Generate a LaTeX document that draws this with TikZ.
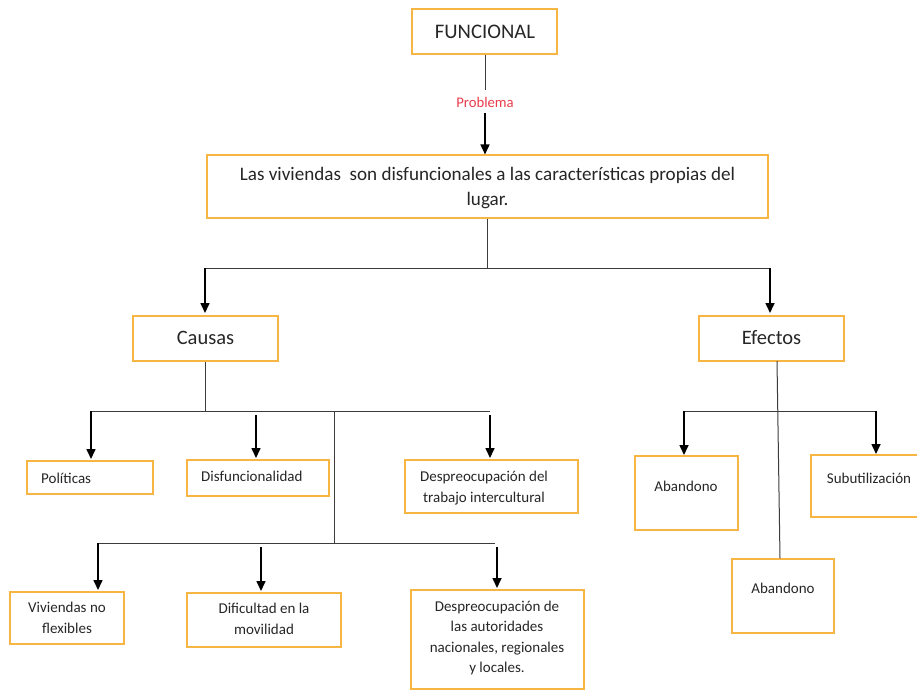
\documentclass[tikz,border=0pt]{standalone}
\usepackage{fontspec}
\setmainfont{Carlito}
\usetikzlibrary{arrows.meta,fit}
\definecolor{boxor}{RGB}{247,181,67}
\definecolor{linegr}{RGB}{60,60,60}
\definecolor{probred}{RGB}{232,60,75}
\begin{document}
\begin{tikzpicture}[x=1pt,y=-1pt,
  box/.style={draw=boxor, line width=1.1pt, inner sep=0pt},
  txt/.style={inner sep=0pt, align=center, text=black!85, font=\fontsize{15}{20.5}\selectfont},
  bigtxt/.style={inner sep=0pt, align=center, text=black!85, font=\fontsize{20.5}{24}\selectfont},
  maintxt/.style={inner sep=0pt, align=center, text=black!85, font=\fontsize{19.1}{25}\selectfont},
  lnk/.style={draw=linegr, line width=1pt},
  arr/.style={draw=black, line width=1.6pt, -{Triangle[length=10pt,width=9pt]}}]
\useasboundingbox (0,0) rectangle (917,690);

% top
\node[box, fit={(412,9) (557,54)}] (fun) {};
\node[bigtxt, font=\fontsize{20.7}{24}\selectfont] (funt) at (485,31.5) {FUNCIONAL};
\coordinate (pa) at (485,90);
\node[inner sep=0pt, text=probred, font=\fontsize{14.7}{17}\selectfont] (prob) at (485,102) {Problema};
\coordinate (pb) at (485,113);
\node[box, fit={(207,155) (768,218)}] (main) {};
\node[maintxt] (maint) at (487.5,188) {Las viviendas\ \ son disfuncionales a las características propias del\\lugar.};
\draw[lnk] (fun.south -| pa) -- (pa);
\draw[arr] (pb) -- (pb |- main.north);

% level 2
\node[box, fit={(133,316) (278,361)}] (cau) {};
\node[bigtxt] (caut) at (205.5,338) {Causas};
\node[box, fit={(699,316) (844,361)}] (efe) {};
\node[bigtxt] (efet) at (771.5,338) {Efectos};
\coordinate (m1) at (487,268);
\coordinate (mL) at (204,268);
\coordinate (mR) at (771,268);
\draw[lnk] (main.south -| m1) -- (m1);
\draw[lnk] (mL) -- (mR);
\draw[arr] (205,268) -- (205,313);
\draw[arr] (770,268) -- (770,313);

% causas level 3
\coordinate (c1) at (205,411);
\coordinate (cL) at (90,411);
\coordinate (cR) at (490,411);
\coordinate (cM) at (334,411);
\draw[lnk] (cau.south -| c1) -- (c1);
\draw[lnk] (cL) -- (cR);
\node[box, fit={(27,461) (153,494)}] (pol) {};
\node[txt, anchor=west] (polt) at (41,478) {Políticas};
\node[box, fit={(187,460) (329,496)}] (dis) {};
\node[txt, anchor=west] (dist) at (201,476) {Disfuncionalidad};
\node[box, fit={(405,460) (578,513)}] (dti) {};
\node[txt] (dtit) at (484,488) {Despreocupación del\\trabajo intercultural};
\draw[arr] (91,411) -- (91 ,459);
\draw[arr] (256,415) -- (256,458);
\draw[arr] (490,415) -- (490,458);

% causas level 4
\coordinate (d1) at (334,543);
\coordinate (dL) at (97,543);
\coordinate (dR) at (495,543);
\draw[lnk] (cM) -- (d1);
\draw[lnk] (dL) -- (dR);
\node[box, fit={(10,592) (124,644)}] (viv) {};
\node[txt] (vivt) at (67,618) {Viviendas no\\flexibles};
\node[box, fit={(187,593) (341,647)}] (dif) {};
\node[txt] (dift) at (264,619) {Dificultad en la\\movilidad};
\node[box, fit={(411,590) (584,689)}] (dau) {};
\node[txt] (daut) at (497,638) {Despreocupación de\\las autoridades\\nacionales, regionales\\y locales.};
\draw[arr] (98,543) -- (98,590);
\draw[arr] (261,547) -- (261,591);
\draw[arr] (497,547) -- (497,588);

% efectos
\coordinate (e1) at (683,411);
\coordinate (e2) at (876,411);
\node[box, fit={(635,456) (738,530)}] (ab1) {};
\node[txt] (ab1t) at (686,486) {Abandono};
\node[box, fit={(811,455) (922,517)}] (sub) {};
\node[txt] (subt) at (869,478) {Subutilización};
\node[box, fit={(732,559) (834,633)}] (ab2) {};
\node[txt] (ab2t) at (783,588) {Abandono};
\draw[lnk] (777,361) -- (ab2.north -| 780,0);
\draw[lnk] (e1) -- (e2);
\draw[arr] (684,411) -- (684,455);
\draw[arr] (876,411) -- (876,454);
\end{tikzpicture}
\end{document}
